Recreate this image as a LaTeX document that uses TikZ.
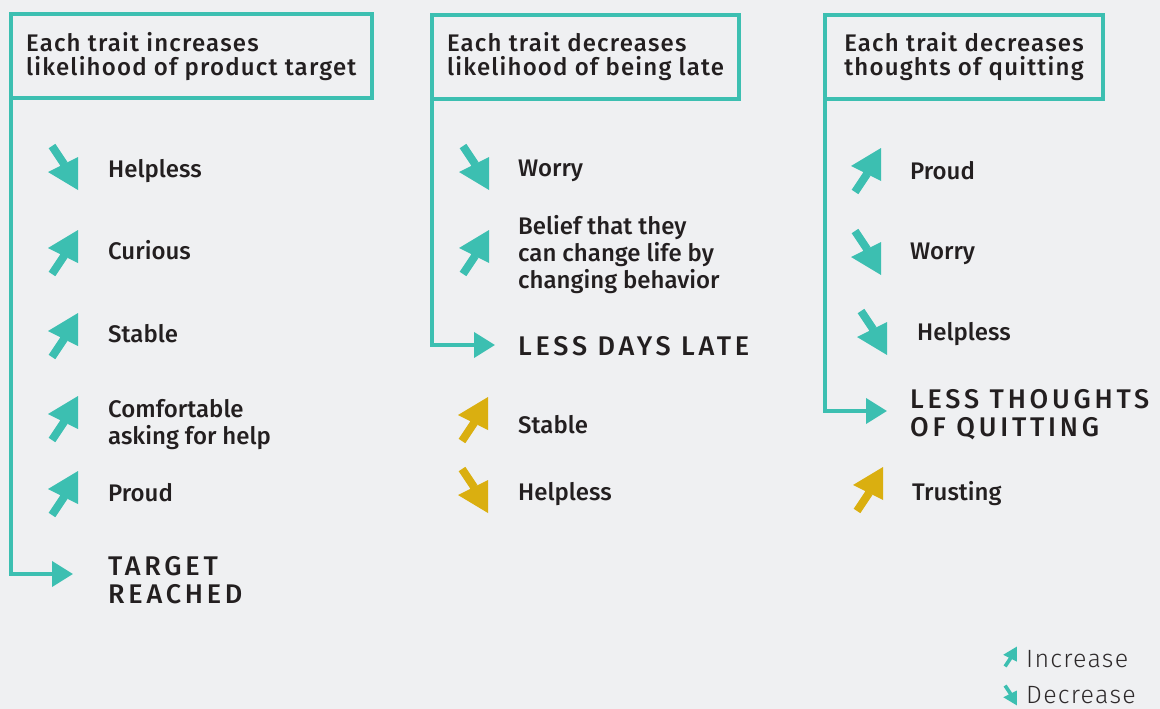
\documentclass[tikz,border=0pt]{standalone}
\usepackage{fontspec}
\setmainfont{Fira Sans}
\newfontfamily\medfont{Fira Sans Medium}
\newfontfamily\lightfont{Fira Sans Light}
\usetikzlibrary{arrows.meta,positioning}
\definecolor{bgc}{HTML}{EFF0F2}
\definecolor{tealc}{HTML}{3CBFB1}
\definecolor{goldc}{HTML}{DAAF10}
\definecolor{inkc}{HTML}{231F20}
\tikzset{>={Triangle[length=21pt,width=25pt]},
	head/.style={draw=tealc,line width=4pt,inner xsep=15pt,inner ysep=0pt,outer sep=0pt,anchor=north west,align=left,text=inkc,font=\medfont\fontsize{24}{24}\selectfont\addfontfeatures{LetterSpace=5}},
	trait/.style={anchor=west,inner sep=0pt,align=left,text=inkc,font=\medfont\fontsize{24}{27}\selectfont},
	goal/.style={anchor=west,inner sep=0pt,align=left,text=inkc,font=\medfont\fontsize{27}{28}\selectfont\addfontfeatures{LetterSpace=14}},
	legendtxt/.style={anchor=west,inner sep=0pt,text=inkc!95,font=\lightfont\fontsize{25}{28}\selectfont\addfontfeatures{LetterSpace=5}},
	link/.style={->,draw=tealc,line width=4pt},
	pics/upmark/.style={code={\fill[#1] (15,-23) -- (-15,-5) -- (15,10) -- cycle (-14.3,18.8) -- (-7.7,23.2) -- (4.3,5.2) -- (-2.3,0.8) -- cycle;}},
	pics/downmark/.style={code={\fill[#1] (15,23) -- (-15,5) -- (15,-10) -- cycle (-14.3,-18.8) -- (-7.7,-23.2) -- (4.3,-5.2) -- (-2.3,-0.8) -- cycle;}}}

\begin{document}
\begin{tikzpicture}[x=1pt,y=-1pt]
	\fill[bgc] (0,0) rectangle (1160,709);
	% column 1
	\node (h1) at (10.5,14.5) [head,minimum width=361.5pt,minimum height=84pt] {Each trait increases\\likelihood of product target};
	\pic at (63,167) {downmark=tealc};
	\node (a1) at (108,171) [trait] {Helpless};
	\pic at (63,253) {upmark=tealc};
	\node (a2) at (108,250) [trait] {Curious};
	\pic at (63,336) {upmark=tealc};
	\node (a3) at (108,334) [trait] {Stable};
	\pic at (63,419) {upmark=tealc};
	\node (a4) at (108,425) [trait] {Comfortable\\asking for help};
	\pic at (63,494) {upmark=tealc};
	\node (a5) at (108,493) [trait] {Proud};
	\node (g1) at (108,580) [goal] {TARGET\\REACHED};
	\coordinate (e1) at (73,574);
	\draw[link] (h1.south west) |- (e1);
	% column 2
	\node (h2) at (432,15) [head,minimum width=305pt,minimum height=84pt] {Each trait decreases\\likelihood of being late};
	\pic at (474,167) {downmark=tealc};
	\node (b1) at (518,171) [trait] {Worry};
	\pic at (474,253) {upmark=tealc};
	\node (b2) at (518,255) [trait] {Belief that they\\can change life by\\changing behavior};
	\node (g2) at (518,346) [goal] {LESS DAYS LATE};
	\coordinate (e2) at (495,345);
	\draw[link] (h2.south west) |- (e2);
	\pic at (473,420) {upmark=goldc};
	\node (b3) at (518,425) [trait] {Stable};
	\pic at (473,490) {downmark=goldc};
	\node (b4) at (518,494) [trait] {Helpless};
	% column 3
	\node (h3) at (825,15) [head,minimum width=278pt,minimum height=84pt] {Each trait decreases\\thoughts of quitting};
	\pic at (866,171) {upmark=tealc};
	\node (c1) at (910,171) [trait] {Proud};
	\pic at (866,252) {downmark=tealc};
	\node (c2) at (910,254) [trait] {Worry};
	\pic at (872,332) {downmark=tealc};
	\node (c3) at (917,334) [trait] {Helpless};
	\node (g3) at (910,415) [goal] {LESS THOUGHTS\\OF QUITTING};
	\coordinate (e3) at (887,411);
	\draw[link] (h3.south west) |- (e3);
	\pic at (868,490) {upmark=goldc};
	\node (c4) at (912,494) [trait] {Trusting};
	% legend
	\node (inc) at (1026,659) [legendtxt] {Increase};
	\node (dec) at (1026,695) [legendtxt] {Decrease};
	\pic[scale=0.45] at (1010,657) {upmark=tealc};
	\pic[scale=0.45] at (1010,695) {downmark=tealc};
\end{tikzpicture}
\end{document}
